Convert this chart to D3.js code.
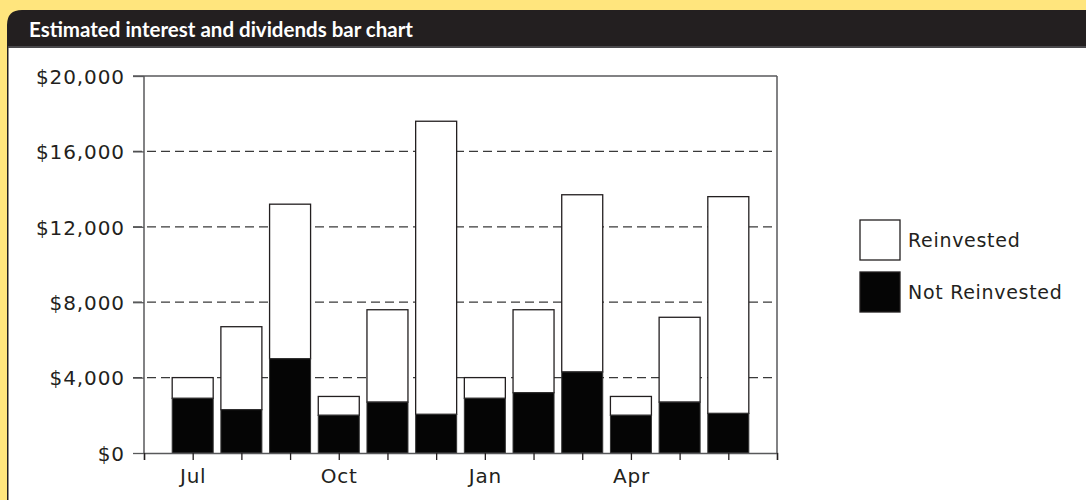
<!DOCTYPE html>
<html>
<head>
<meta charset="utf-8">
<script src="https://cdn.jsdelivr.net/npm/d3@7"></script>
<style>
  body { margin: 0; background: #FFE57D; }
  .chart text { font-family: "DejaVu Sans", sans-serif; fill: #231F20; }
</style>
</head>
<body>
<div class="chart"></div>
<script>
// Estimated interest and dividends, stacked monthly bars

var months        = ["Jul","Aug","Sep","Oct","Nov","Dec","Jan","Feb","Mar","Apr","May","Jun"];
var notReinvested = [2900, 2300, 5000, 2000, 2700, 2050, 2900, 3200, 4300, 2000, 2700, 2100];
var reinvested    = [1100, 4400, 8200, 1000, 4900, 15550, 1100, 4400, 9400, 1000, 4500, 11500];
var yTicks        = [0, 4000, 8000, 12000, 16000, 20000];
var xTickLabels   = ["Jul", "Oct", "Jan", "Apr"];
var seriesNames   = ["Reinvested", "Not Reinvested"];
var title         = "Estimated interest and dividends bar chart";

var W = 1086, H = 500;

var svg = d3.select(".chart").append("svg")
    .attr("width", W)
    .attr("height", H);

// frame: yellow page, dark header with rounded corner, white panel
svg.append("rect").attr("width", W).attr("height", H).attr("fill", "#FFE57D");
svg.append("path")
    .attr("d", "M7,500 V25 Q7,10 22,10 H" + W + " V500 Z")
    .attr("fill", "#231F20");
svg.append("rect")
    .attr("x", 8.5).attr("y", 48)
    .attr("width", W - 8.5).attr("height", H - 48)
    .attr("fill", "#fff");
svg.append("line")
    .attr("x1", 8).attr("x2", W).attr("y1", 47).attr("y2", 47)
    .attr("stroke", "#58595B").attr("stroke-width", 1.5);

svg.append("text")
    .attr("x", 29).attr("y", 37)
    .style("font-family", "Lato, sans-serif")
    .style("font-weight", "bold")
    .style("font-size", "20.5px")
    .style("fill", "#fff")
    .text(title);

var margin = {top: 76, left: 144, right: 1086 - 777, bottom: 500 - 453};

var x = d3.scaleLinear()
    .domain([0, months.length + 1])
    .range([margin.left, W - margin.right]);

var y = d3.scaleLinear()
    .domain([0, 20000])
    .range([H - margin.bottom, margin.top]);

var barW = 41;
var axisColor = "#58595B";

// gridlines (dashed), starting at the tick marks on the left
var grid = svg.append("g").attr("class", "grid");
grid.selectAll("line")
    .data(yTicks.filter(function(d) { return d > 0 && d < 20000; }))
    .enter()
    .append("line")
    .attr("x1", 133).attr("x2", x.range()[1])
    .attr("y1", function(d) { return y(d); })
    .attr("y2", function(d) { return y(d); })
    .attr("stroke", "#3a3a3a")
    .attr("stroke-width", 1.2)
    .attr("stroke-dasharray", "9,5");

// stacked bars
var stackData = months.map(function(m, i) {
    return {month: m, i: i, nr: notReinvested[i], r: reinvested[i]};
});

var bars = svg.append("g").attr("class", "bars");

bars.selectAll(".reinvested")
    .data(stackData)
    .enter()
    .append("rect")
    .attr("class", "reinvested")
    .attr("x", function(d) { return x(d.i + 1) - barW / 2; })
    .attr("width", barW)
    .attr("y", function(d) { return y(d.nr + d.r); })
    .attr("height", function(d) { return y(d.nr) - y(d.nr + d.r); })
    .attr("fill", "#fff")
    .attr("stroke", "#231F20")
    .attr("stroke-width", 1.3);

bars.selectAll(".notreinvested")
    .data(stackData)
    .enter()
    .append("rect")
    .attr("class", "notreinvested")
    .attr("x", function(d) { return x(d.i + 1) - barW / 2; })
    .attr("width", barW)
    .attr("y", function(d) { return y(d.nr); })
    .attr("height", function(d) { return y(0) - y(d.nr); })
    .attr("fill", "#050505")
    .attr("stroke", "#333")
    .attr("stroke-width", 1);

// y axis
var yAxis = svg.append("g")
    .attr("transform", "translate(" + margin.left + ",0)")
    .call(d3.axisLeft(y)
        .tickValues(yTicks)
        .tickSize(11)
        .tickPadding(8)
        .tickFormat(function(d) { return "$" + d3.format(",")(d); }));
yAxis.select(".domain").remove();
yAxis.selectAll(".tick line").attr("stroke", axisColor).attr("stroke-width", 1.3);
yAxis.selectAll("text")
    .style("font-size", "20px")
    .style("letter-spacing", "0.9px")
    .attr("dy", "0.36em");

// frame lines
svg.append("line")
    .attr("x1", x.range()[0]).attr("x2", x.range()[0])
    .attr("y1", y(20000)).attr("y2", y(0))
    .attr("stroke", axisColor).attr("stroke-width", 1.5);
svg.append("line")
    .attr("x1", x.range()[1]).attr("x2", x.range()[1])
    .attr("y1", y(20000)).attr("y2", y(0))
    .attr("stroke", axisColor).attr("stroke-width", 1.5);
svg.append("line")
    .attr("x1", 133).attr("x2", x.range()[1])
    .attr("y1", y(20000)).attr("y2", y(20000))
    .attr("stroke", axisColor).attr("stroke-width", 1.5);

// x axis
var xAxis = svg.append("g")
    .attr("transform", "translate(0," + y(0) + ")")
    .call(d3.axisBottom(x)
        .tickValues(d3.range(0, months.length + 2))
        .tickSize(7)
        .tickPadding(9)
        .tickFormat(function(d) {
            var m = months[d - 1];
            return xTickLabels.indexOf(m) >= 0 ? m : "";
        }));
xAxis.select(".domain").attr("stroke", axisColor).attr("stroke-width", 1.5);
xAxis.selectAll(".tick line").attr("stroke", "#231F20").attr("stroke-width", 1.3);
xAxis.selectAll("text")
    .style("font-size", "20px")
    .style("letter-spacing", "0.8px");

// legend
var legend = svg.append("g").attr("transform", "translate(860,220)");
var legendItems = legend.selectAll(".item")
    .data(seriesNames)
    .enter()
    .append("g")
    .attr("transform", function(d, i) { return "translate(0," + (i * 52) + ")"; });

legendItems.append("rect")
    .attr("width", 40).attr("height", 40)
    .attr("fill", function(d, i) { return i === 0 ? "#fff" : "#050505"; })
    .attr("stroke", "#231F20")
    .attr("stroke-width", 1.3);

legendItems.append("text")
    .attr("x", 48).attr("y", 27)
    .style("font-size", "19px")
    .style("letter-spacing", "0.7px")
    .text(function(d) { return d; });
</script>
</body>
</html>
